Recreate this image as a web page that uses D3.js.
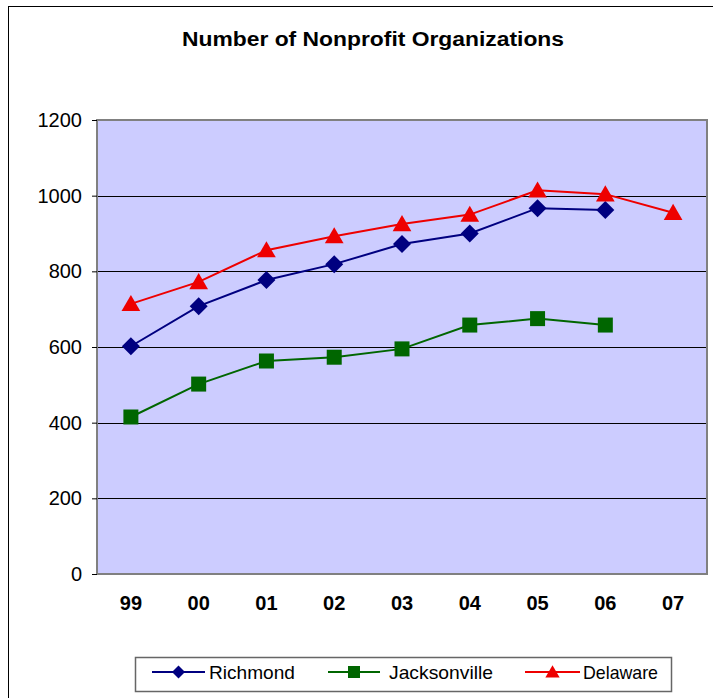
<!DOCTYPE html>
<html>
<head>
<meta charset="utf-8">
<script src="https://cdn.jsdelivr.net/npm/d3@7"></script>
<style>
  body { margin: 0; background: #fff; }
  svg { display: block; font-family: "Liberation Sans", Arial, sans-serif; }
</style>
</head>
<body>
<svg id="chart" width="713" height="698"></svg>
<script>
// data
var years = ["99", "00", "01", "02", "03", "04", "05", "06", "07"];
var richmond = [602, 708, 777, 819, 872, 900, 967, 962, null];
var jacksonville = [415, 502, 563, 573, 595, 658, 675, 658, null];
var delaware = [714, 772, 856, 893, 925, 950, 1014, 1004, 955];
var yTicks = [0, 200, 400, 600, 800, 1000, 1200];

var seriesNames = ["Richmond", "Jacksonville", "Delaware"];
var seriesValues = [richmond, jacksonville, delaware];
var seriesColors = ["#000080", "#006600", "#ee0000"];
var seriesMarkers = ["diamond", "square", "triangle"];

var svg = d3.select("#chart"),
    width = +svg.attr("width"),
    height = +svg.attr("height");

var plot = {left: 97, right: 707, top: 120, bottom: 574};

// outer frame (runs off the right and bottom)
svg.append("rect")
    .attr("x", 8.5).attr("y", 6.5)
    .attr("width", 720).attr("height", 720)
    .attr("fill", "#fff").attr("stroke", "#000").attr("stroke-width", 1);

var x = d3.scaleBand().domain(years).range([plot.left, plot.right]);
var y = d3.scaleLinear().domain([0, 1200]).range([plot.bottom, plot.top]);

// plot background
svg.append("rect")
    .attr("x", plot.left).attr("y", plot.top)
    .attr("width", plot.right - plot.left).attr("height", plot.bottom - plot.top)
    .attr("fill", "#ccccff");

// gridlines
svg.append("g").selectAll("line")
    .data(yTicks.filter(function (d) { return d > 0 && d < 1200; }))
    .enter().append("line")
    .attr("x1", plot.left).attr("x2", plot.right)
    .attr("y1", function (d) { return Math.round(y(d)) + 0.5; })
    .attr("y2", function (d) { return Math.round(y(d)) + 0.5; })
    .attr("stroke", "#000").attr("stroke-width", 1);

// plot border
svg.append("rect")
    .attr("x", plot.left).attr("y", plot.top)
    .attr("width", plot.right - plot.left).attr("height", plot.bottom - plot.top)
    .attr("fill", "none").attr("stroke", "#808080").attr("stroke-width", 2);

// y axis
var yAxis = svg.append("g")
    .attr("transform", "translate(" + plot.left + ",0)")
    .call(d3.axisLeft(y).tickValues(yTicks).tickSize(5).tickPadding(10).tickFormat(d3.format("d")));
yAxis.select(".domain").remove();
yAxis.selectAll(".tick line").attr("stroke", "#000");
yAxis.selectAll("text").attr("font-size", 20).attr("fill", "#000")
    .attr("font-family", "Liberation Sans, Arial, sans-serif");

// x axis labels
var xAxis = svg.append("g")
    .attr("transform", "translate(0," + plot.bottom + ")")
    .call(d3.axisBottom(x).tickSize(0).tickPadding(22));
xAxis.select(".domain").remove();
xAxis.selectAll("text").attr("font-size", 20).attr("font-weight", "bold").attr("fill", "#000")
    .attr("font-family", "Liberation Sans, Arial, sans-serif");

// title
svg.append("text")
    .attr("x", 182).attr("y", 46)
    .attr("font-size", 19.5).attr("font-weight", "bold")
    .attr("textLength", 382).attr("lengthAdjust", "spacingAndGlyphs")
    .text("Number of Nonprofit Organizations");

function markerPath(type, s) {
    if (type === "diamond") return "M0," + (-s) + "L" + s + ",0L0," + s + "L" + (-s) + ",0Z";
    if (type === "square") return "M" + (-s) + "," + (-s) + "H" + s + "V" + s + "H" + (-s) + "Z";
    return "M0," + (-s * 1.05) + "L" + (s * 1.1) + "," + (s * 0.85) + "H" + (-s * 1.1) + "Z";
}
var markerSize = {diamond: 9, square: 7.5, triangle: 8.5};

var line = d3.line()
    .defined(function (d) { return d.v != null; })
    .x(function (d) { return x(d.year) + x.bandwidth() / 2; })
    .y(function (d) { return y(d.v); });

seriesValues.forEach(function (vals, i) {
    var pts = years.map(function (yr, j) { return {year: yr, v: vals[j]}; });
    var g = svg.append("g");
    g.append("path")
        .datum(pts)
        .attr("d", line)
        .attr("fill", "none")
        .attr("stroke", seriesColors[i])
        .attr("stroke-width", 2);
    g.selectAll("path.mk")
        .data(pts.filter(function (d) { return d.v != null; }))
        .enter().append("path")
        .attr("class", "mk")
        .attr("transform", function (d) { return "translate(" + (x(d.year) + x.bandwidth() / 2) + "," + y(d.v) + ")"; })
        .attr("d", markerPath(seriesMarkers[i], markerSize[seriesMarkers[i]]))
        .attr("fill", seriesColors[i]);
});

// legend
var legend = svg.append("g");
legend.append("rect")
    .attr("x", 135.5).attr("y", 657.5).attr("width", 536).attr("height", 34)
    .attr("fill", "#fff").attr("stroke", "#666").attr("stroke-width", 1.5);

var legendItems = [
    {x1: 152, x2: 205, tx: 209, tw: 86},
    {x1: 328, x2: 380, tx: 389, tw: 104},
    {x1: 525, x2: 580, tx: 583, tw: 75}
];
var legendMarkerSize = {diamond: 6.5, square: 6, triangle: 6.5};
legendItems.forEach(function (it, i) {
    var cy = 672;
    legend.append("line")
        .attr("x1", it.x1).attr("x2", it.x2).attr("y1", cy).attr("y2", cy)
        .attr("stroke", seriesColors[i]).attr("stroke-width", 2);
    legend.append("path")
        .attr("transform", "translate(" + ((it.x1 + it.x2) / 2) + "," + cy + ")")
        .attr("d", markerPath(seriesMarkers[i], legendMarkerSize[seriesMarkers[i]]))
        .attr("fill", seriesColors[i]);
    legend.append("text")
        .attr("x", it.tx).attr("y", 679)
        .attr("font-size", 19)
        .attr("textLength", it.tw).attr("lengthAdjust", "spacingAndGlyphs")
        .text(seriesNames[i]);
});
</script>
</body>
</html>
